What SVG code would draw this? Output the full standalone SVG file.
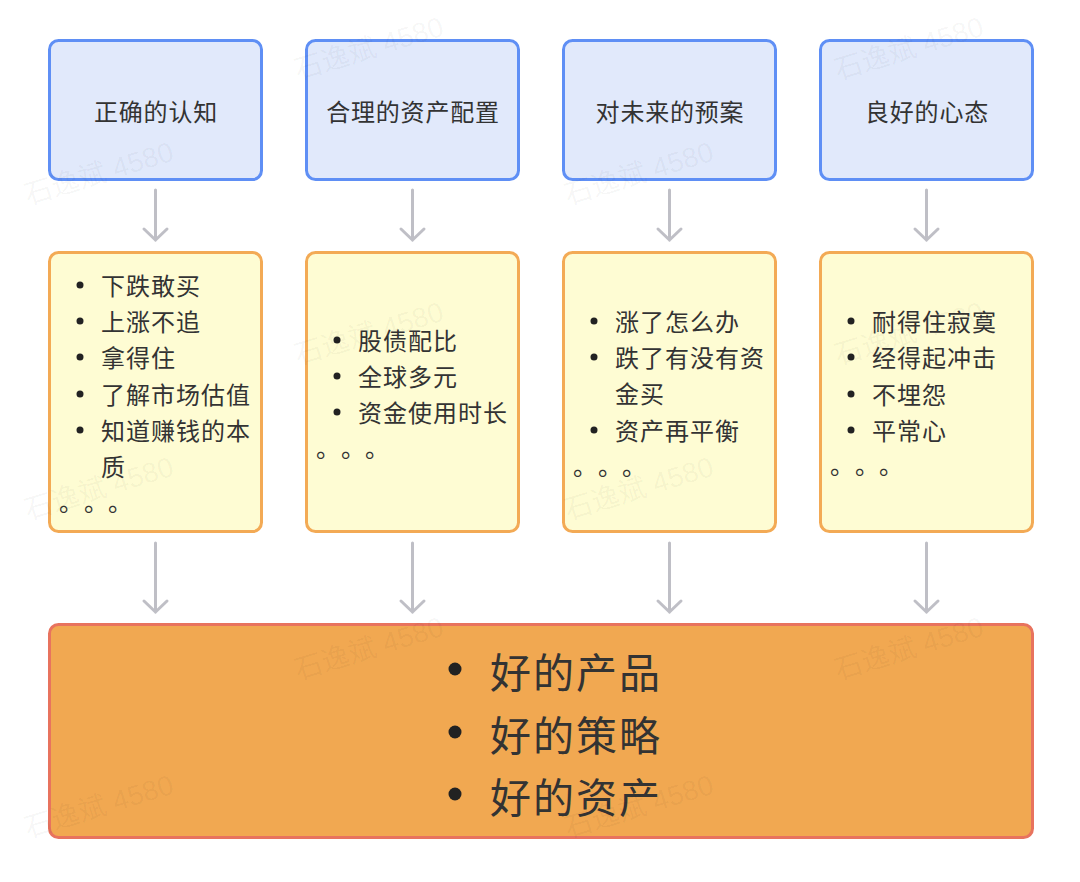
<svg xmlns="http://www.w3.org/2000/svg" width="1080" height="882" viewBox="0 0 1080 882">
<defs>
<style>
.top{fill:#e1e9fb;stroke:#5f8ff5;stroke-width:3}
.mid{fill:#fefcd3;stroke:#f3aa55;stroke-width:3}
.bot{fill:#f1a851;stroke:#e8735e;stroke-width:3}
text{font-family:"Noto Sans CJK SC","Noto Sans",sans-serif;fill:#333}
.t{font-size:24px;letter-spacing:0.8px;text-anchor:middle;dominant-baseline:central}
.l{font-size:24px;letter-spacing:1px;dominant-baseline:central}
.e{font-size:24px;dominant-baseline:central}
.b{font-size:41px;letter-spacing:2px;dominant-baseline:central}
.dot{fill:#222}
.con{stroke:#bfbfc6;stroke-width:3;fill:none;stroke-linecap:round}
.wm{font-family:"Liberation Sans","Noto Sans CJK SC",sans-serif;font-size:28px;fill:#000;fill-opacity:0.045}
</style>
</defs>
<rect width="1080" height="882" fill="#fff"/>
<g id="connectors">
<path class="con" d="M155.5 190V240M144 229L155.5 240L167 229"/>
<path class="con" d="M412.5 190V240M401 229L412.5 240L424 229"/>
<path class="con" d="M669.5 190V240M658 229L669.5 240L681 229"/>
<path class="con" d="M926.5 190V240M915 229L926.5 240L938 229"/>
<path class="con" d="M155.5 543V612M144 601L155.5 612L167 601"/>
<path class="con" d="M412.5 543V612M401 601L412.5 612L424 601"/>
<path class="con" d="M669.5 543V612M658 601L669.5 612L681 601"/>
<path class="con" d="M926.5 543V612M915 601L926.5 612L938 601"/>
</g>
<g id="n1"><rect class="top" x="49.5" y="40.5" width="212" height="139" rx="9"/><text class="t" x="156" y="110">正确的认知</text></g>
<g id="n2"><rect class="top" x="306.5" y="40.5" width="212" height="139" rx="9"/><text class="t" x="413" y="110">合理的资产配置</text></g>
<g id="n3"><rect class="top" x="563.5" y="40.5" width="212" height="139" rx="9"/><text class="t" x="670" y="110">对未来的预案</text></g>
<g id="n4"><rect class="top" x="820.5" y="40.5" width="212" height="139" rx="9"/><text class="t" x="927" y="110">良好的心态</text></g>
<g id="m1"><rect class="mid" x="49.5" y="252.5" width="212" height="279" rx="9"/>
<circle class="dot" cx="80" cy="285" r="3.5"/><text class="l" x="101" y="284">下跌敢买</text>
<circle class="dot" cx="80" cy="321" r="3.5"/><text class="l" x="101" y="320">上涨不追</text>
<circle class="dot" cx="80" cy="357" r="3.5"/><text class="l" x="101" y="356">拿得住</text>
<circle class="dot" cx="80" cy="394" r="3.5"/><text class="l" x="101" y="393">了解市场估值</text>
<circle class="dot" cx="80" cy="430" r="3.5"/><text class="l" x="101" y="429">知道赚钱的本</text>
<text class="l" x="101" y="465">质</text>
<text class="e" x="59 84 108" y="500">。。。</text></g>
<g id="m2"><rect class="mid" x="306.5" y="252.5" width="212" height="279" rx="9"/>
<circle class="dot" cx="337" cy="340" r="3.5"/><text class="l" x="358" y="339">股债配比</text>
<circle class="dot" cx="337" cy="376" r="3.5"/><text class="l" x="358" y="375">全球多元</text>
<circle class="dot" cx="337" cy="412" r="3.5"/><text class="l" x="358" y="411">资金使用时长</text>
<text class="e" x="316 341 365" y="446">。。。</text></g>
<g id="m3"><rect class="mid" x="563.5" y="252.5" width="212" height="279" rx="9"/>
<circle class="dot" cx="594" cy="321" r="3.5"/><text class="l" x="615" y="320">涨了怎么办</text>
<circle class="dot" cx="594" cy="357" r="3.5"/><text class="l" x="615" y="356">跌了有没有资</text>
<text class="l" x="615" y="392">金买</text>
<circle class="dot" cx="594" cy="430" r="3.5"/><text class="l" x="615" y="429">资产再平衡</text>
<text class="e" x="573 598 622" y="464">。。。</text></g>
<g id="m4"><rect class="mid" x="820.5" y="252.5" width="212" height="279" rx="9"/>
<circle class="dot" cx="851" cy="321" r="3.5"/><text class="l" x="872" y="320">耐得住寂寞</text>
<circle class="dot" cx="851" cy="357" r="3.5"/><text class="l" x="872" y="356">经得起冲击</text>
<circle class="dot" cx="851" cy="394" r="3.5"/><text class="l" x="872" y="393">不埋怨</text>
<circle class="dot" cx="851" cy="430" r="3.5"/><text class="l" x="872" y="429">平常心</text>
<text class="e" x="830 855 879" y="463">。。。</text></g>
<g id="bottom"><rect class="bot" x="49.5" y="624.5" width="983" height="213" rx="9"/>
<circle class="dot" cx="455" cy="669" r="6.5"/><text class="b" x="490" y="670">好的产品</text>
<circle class="dot" cx="455" cy="732" r="6.5"/><text class="b" x="490" y="733">好的策略</text>
<circle class="dot" cx="455" cy="794" r="6.5"/><text class="b" x="490" y="795">好的资产</text></g>
<g id="watermarks">
<text class="wm" transform="translate(298,80) rotate(-17)">石逸斌 4580</text>
<text class="wm" transform="translate(838,80) rotate(-17)">石逸斌 4580</text>
<text class="wm" transform="translate(28,205) rotate(-17)">石逸斌 4580</text>
<text class="wm" transform="translate(568,205) rotate(-17)">石逸斌 4580</text>
<text class="wm" transform="translate(298,365) rotate(-17)">石逸斌 4580</text>
<text class="wm" transform="translate(838,365) rotate(-17)">石逸斌 4580</text>
<text class="wm" transform="translate(28,520) rotate(-17)">石逸斌 4580</text>
<text class="wm" transform="translate(568,520) rotate(-17)">石逸斌 4580</text>
<text class="wm" transform="translate(298,680) rotate(-17)">石逸斌 4580</text>
<text class="wm" transform="translate(838,680) rotate(-17)">石逸斌 4580</text>
<text class="wm" transform="translate(28,838) rotate(-17)">石逸斌 4580</text>
<text class="wm" transform="translate(568,838) rotate(-17)">石逸斌 4580</text>
</g>
</svg>
